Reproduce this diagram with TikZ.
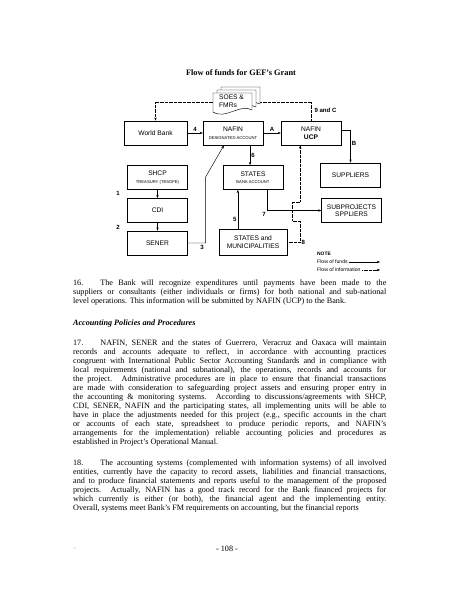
\documentclass[tikz,border=0pt]{standalone}
\usepackage{fontspec}
\setmainfont{Liberation Serif}
\setsansfont{Liberation Sans}
\usetikzlibrary{positioning,arrows.meta,calc}
\newcommand{\acct}[1]{{\fontsize{5.5}{6.5}\selectfont #1}}

\begin{document}
\begin{tikzpicture}[x=1.3218pt, y=-1.3218pt, font=\sffamily\fontsize{8.8}{10}\selectfont,
  bx/.style={draw, semithick, align=center, inner sep=1pt, minimum width=79pt, minimum height=32pt},
  fund/.style={-{Stealth[length=1.5mm, width=1.1mm]}, semithick},
  info/.style={-{Stealth[length=1.5mm, width=1.1mm]}, thin, dash pattern=on 0.8pt off 0.9pt},
  lbl/.style={inner sep=1.5pt, font=\sffamily\bfseries\fontsize{8}{9}\selectfont},
  leg/.style={anchor=west, inner sep=0pt, font=\sffamily\bfseries\fontsize{6.5}{7}\selectfont},
  para/.style={anchor=base west, inner sep=0pt, text width=414pt, align=justify, font=\rmfamily\fontsize{10.8}{11.9}\selectfont}]
\useasboundingbox[fill=white] (0,0) rectangle (463,599);
% title
\node[font=\rmfamily\bfseries\fontsize{11}{13}\selectfont] (title) at (241,73) {Flow of funds for GEF's Grant};
% boxes
\node[bx, minimum width=83pt] (wb) at (155.5,133) {World Bank};
\node[bx] (nda) at (233,133) {NAFIN\\\acct{DESIGNATED ACCOUNT}};
\node[bx] (ucp) at (311,133) {NAFIN\\\textbf{UCP}};
\node[bx] (sup) at (350.5,175) {SUPPLIERS};
\node[bx] (shcp) at (157.5,177.5) {SHCP\\\acct{TREASURY (TESOFE)}};
\node[bx] (cdi) at (157.5,210.5) {CDI};
\node[bx] (sener) at (157.5,243) {SENER};
\node[bx] (st) at (253,177.5) {STATES\\\acct{BANK ACCOUNT}};
\node[bx, minimum width=90pt, minimum height=34pt] (stm) at (253,242) {STATES and\\MUNICIPALITIES};
\node[bx] (subp) at (351.5,210.5) {SUBPROJECTS\\SPPLIERS};
% reports to the Bank
\draw[info] (ucp.north) -- node[lbl, right, xshift=3pt, yshift=1pt]{9 and C} ++(0,-19) -| (wb.north);
\foreach \d in {8,4,0}
  \filldraw[fill=white, semithick] ({213+\d},{93-0.75*\d}) -- ++(39,0) -- ++(0,17)
    .. controls +(-12,-7) and +(13,8) .. ++(-39,2) -- cycle;
\node[anchor=north west, align=left, inner sep=0pt] (docs) at (219,95) {SOES \&\\FMRs};
% flow of funds
\draw[fund] (wb) -- node[lbl, above]{4} (nda);
\draw[fund] (nda) -- node[lbl, above]{A} (ucp);
\draw[fund] ([yshift=4pt]ucp.east) -| node[lbl, pos=0.7, right]{B} (sup.north);
\draw[fund] (shcp) -- (cdi);
\draw[fund] (cdi) -- (sener);
\node[lbl] (n1) at (118,193) {1};
\node[lbl] (n2) at (118,227) {2};
\draw[fund] (sener.east) -- ++(18,0) coordinate (c3) -- ++(0,-66) -- ([xshift=-12pt]nda.south);
\node[lbl, below left=1pt of c3] (n3) {3};
\draw[fund] ([xshift=22.5pt]nda.south) -- node[lbl, right]{6} ([xshift=22.5pt]nda.south |- st.north);
\draw[fund] ([xshift=-20pt]stm.north) -- node[lbl, pos=0.25, left]{5} ([xshift=-20pt]stm.north |- st.south);
\draw[fund] ([xshift=18.5pt]st.south) |- node[lbl, pos=0.5, below left]{7} (subp.west);
\draw[info] (stm.east) -- ++(13,0) coordinate (c8) -- ++(0,-21) -- ++(-8,0) -- ++(0,-19) -- ++(8,0) -- (ucp.south -| c8);
\node[lbl, right=0pt of c8] (n8) {8};
% legend
\node[leg] (note) at (317,254) {NOTE};
\node[leg, font=\sffamily\fontsize{6.8}{7}\selectfont] (ff) at (317,262) {Flow of funds};
\node[leg, font=\sffamily\fontsize{6.8}{7}\selectfont] (fi) at (317,270) {Flow of information};
\coordinate (ffend) at (380,262);
\coordinate (fiend) at (380,270);
\draw[fund, thin] ([xshift=2pt]ff.east) -- (ffend);
\draw[info] ([xshift=2pt]fi.east) -- (fiend);
% text of the page
\node[para] (p16) at (73,285) {\makebox[36pt][l]{16.}The Bank will recognize expenditures until payments have been made to the\linebreak
suppliers or consultants (either individuals or firms) for both national and sub-national\linebreak
level operations. This information will be submitted by NAFIN (UCP) to the Bank.};
\node[anchor=base west, inner sep=0pt, font=\rmfamily\bfseries\itshape\fontsize{10.8}{12}\selectfont] (head) at (73,325) {Accounting Policies and Procedures};
\node[para] (p17) at (73,345) {\makebox[36pt][l]{17.}NAFIN, SENER and the states of Guerrero, Veracruz and Oaxaca will maintain\linebreak
records and accounts adequate to reflect, in accordance with accounting practices\linebreak
congruent with International Public Sector Accounting Standards and in compliance with\linebreak
local requirements (national and subnational), the operations, records and accounts for\linebreak
the project. Administrative procedures are in place to ensure that financial transactions\linebreak
are made with consideration to safeguarding project assets and ensuring proper entry in\linebreak
the accounting \& monitoring systems. According to discussions/agreements with SHCP,\linebreak
CDI, SENER, NAFIN and the participating states, all implementing units will be able to\linebreak
have in place the adjustments needed for this project (e.g., specific accounts in the chart\linebreak
or accounts of each state, spreadsheet to produce periodic reports, and NAFIN's\linebreak
arrangements for the implementation) reliable accounting policies and procedures as\linebreak
established in Project's Operational Manual.};
\node[para] (p18) at (73,465) {\parfillskip=0pt\makebox[36pt][l]{18.}The accounting systems (complemented with information systems) of all involved\linebreak
entities, currently have the capacity to record assets, liabilities and financial transactions,\linebreak
and to produce financial statements and reports useful to the management of the proposed\linebreak
projects. Actually, NAFIN has a good track record for the Bank financed projects for\linebreak
which currently is either (or both), the financial agent and the implementing entity.\linebreak
Overall, systems meet Bank's FM requirements on accounting, but the financial reports};
\node[font=\rmfamily\fontsize{10.8}{12}\selectfont] (pg) at (227,549) {- 108 -};
\node[font=\rmfamily\fontsize{6}{7}\selectfont] (mark) at (75,549) {-};
\end{tikzpicture}
\end{document}
